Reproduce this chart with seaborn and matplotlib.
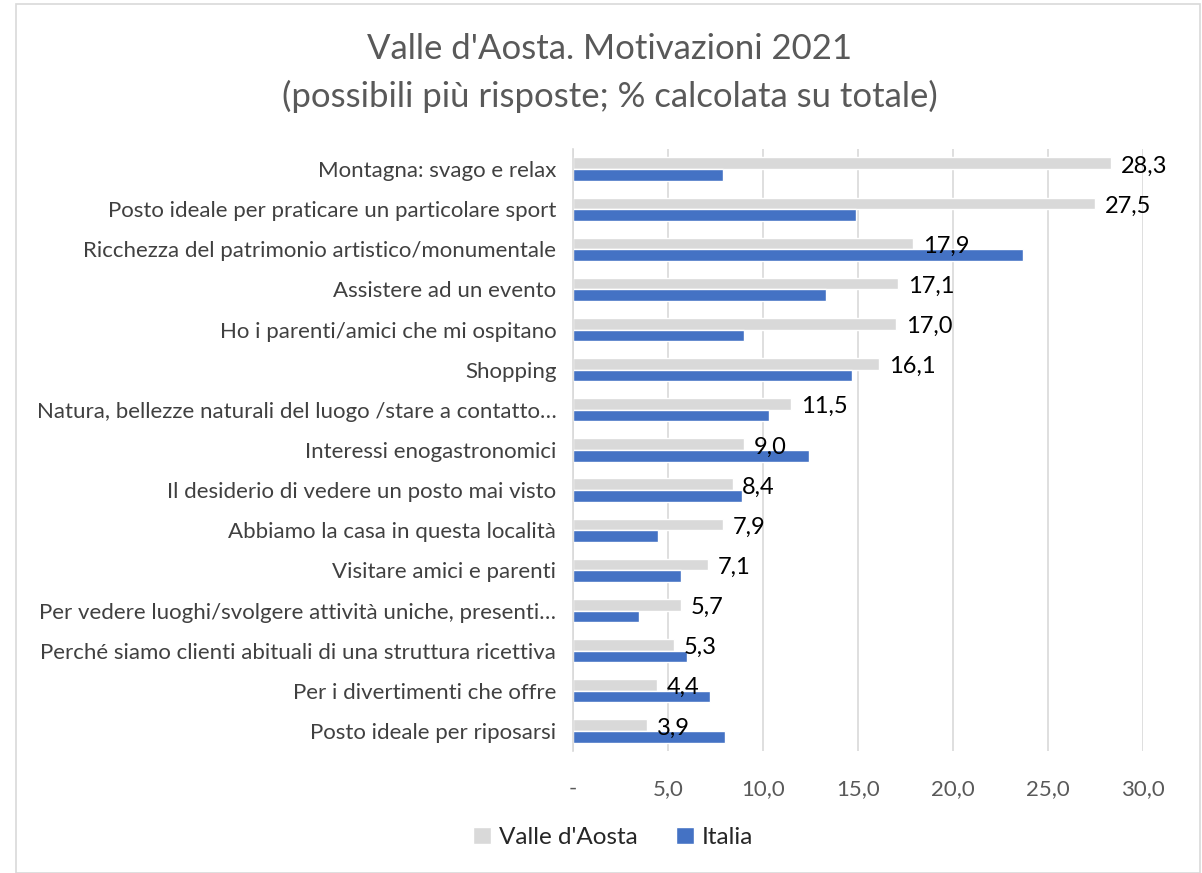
import seaborn as sns
import matplotlib.pyplot as plt
from matplotlib.ticker import FuncFormatter, MultipleLocator
import pandas as pd

motivazioni = [
    "Montagna: svago e relax",
    "Posto ideale per praticare un particolare sport",
    "Ricchezza del patrimonio artistico/monumentale",
    "Assistere ad un evento",
    "Ho i parenti/amici che mi ospitano",
    "Shopping",
    "Natura, bellezze naturali del luogo /stare a contatto…",
    "Interessi enogastronomici",
    "Il desiderio di vedere un posto mai visto",
    "Abbiamo la casa in questa località",
    "Visitare amici e parenti",
    "Per vedere luoghi/svolgere attività uniche, presenti…",
    "Perché siamo clienti abituali di una struttura ricettiva",
    "Per i divertimenti che offre",
    "Posto ideale per riposarsi",
]
valle_aosta = [28.3, 27.5, 17.9, 17.1, 17.0, 16.1, 11.5, 9.0, 8.4, 7.9, 7.1, 5.7, 5.3, 4.4, 3.9]
italia = [7.9, 14.9, 23.7, 13.3, 9.0, 14.7, 10.3, 12.4, 8.9, 4.5, 5.7, 3.5, 6.0, 7.2, 8.0]
serie = ["Valle d'Aosta", "Italia"]
colori = ["#D9D9D9", "#4472C4"]


def it_fmt(v, pos):
    if abs(v) < 1e-9:
        return "-"
    return f"{v:.1f}".replace(".", ",")


def main():
    sns.set_theme(style="white")
    plt.rcParams["font.family"] = ["Lato", "DejaVu Sans"]

    df = pd.DataFrame({
        "motivazione": motivazioni * 2,
        "valore": valle_aosta + italia,
        "serie": [serie[0]] * len(motivazioni) + [serie[1]] * len(motivazioni),
    })

    fig = plt.figure(figsize=(12.02, 8.73), dpi=100)
    ax = fig.add_axes([0.4767, 0.1398, 0.4742, 0.6895])
    sns.barplot(data=df, y="motivazione", x="valore", hue="serie",
                hue_order=serie, palette=colori, order=motivazioni,
                orient="h", width=0.58, saturation=1, ax=ax, legend=True)

    ax.set_xlim(0, 30)
    ax.xaxis.set_major_locator(MultipleLocator(5))
    ax.xaxis.set_major_formatter(FuncFormatter(it_fmt))
    ax.grid(axis="x", color="#D9D9D9", linewidth=1.2)
    ax.set_axisbelow(True)
    for s in ["top", "right", "bottom"]:
        ax.spines[s].set_visible(False)
    ax.spines["left"].set_color("#D9D9D9")
    ax.spines["left"].set_linewidth(1.2)
    ax.tick_params(axis="x", length=0, labelsize=16, labelcolor="#595959", pad=20)
    ax.tick_params(axis="y", length=0, labelsize=16, labelcolor="#404040", pad=12)
    ax.set_xlabel("")
    ax.set_ylabel("")

    # etichette solo sulla serie Valle d'Aosta, leggermente sotto il centro della barra
    for bar, v in zip(ax.containers[0], valle_aosta):
        ax.annotate(it_fmt(v, None), (bar.get_width(), bar.get_y() + bar.get_height() / 2),
                    xytext=(7, -2), textcoords="offset points",
                    ha="left", va="center", fontsize=17, color="black")

    handles, labels = ax.get_legend_handles_labels()
    ax.legend(handles, labels, loc="center", bbox_to_anchor=(0.51, 0.041),
              bbox_transform=fig.transFigure, ncol=2, frameon=False,
              fontsize=17.5, handlelength=0.75, handleheight=0.75,
              handletextpad=0.3, columnspacing=1.6)

    fig.text(0.507, 0.944, "Valle d'Aosta. Motivazioni 2021", ha="center",
             va="center", fontsize=25, color="#595959")
    fig.text(0.507, 0.890, "(possibili più risposte; % calcolata su totale)",
             ha="center", va="center", fontsize=25, color="#595959")

    border = plt.Rectangle((0.013, 0.0), 0.985, 0.995, transform=fig.transFigure,
                           fill=False, edgecolor="#D9D9D9", linewidth=1.2)
    fig.patches.append(border)

    fig.savefig("out.png", dpi=100)


if __name__ == "__main__":
    main()
